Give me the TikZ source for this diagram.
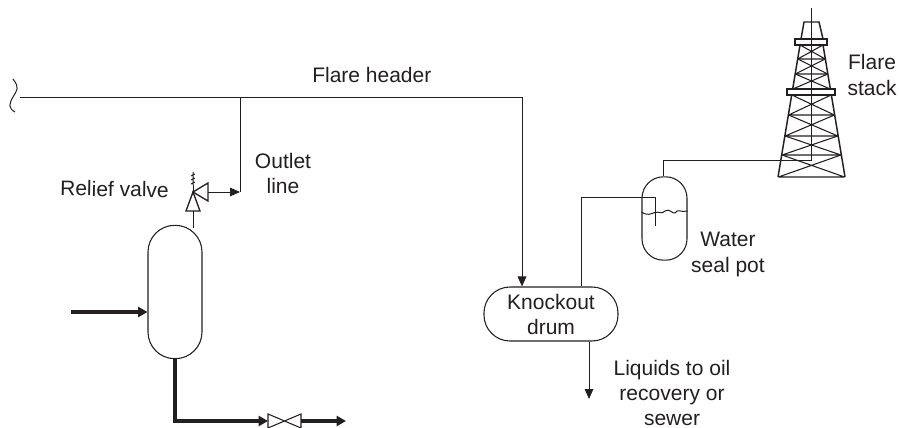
\documentclass[tikz,border=0pt]{standalone}
\usepackage{fontspec}
\setmainfont{Liberation Sans}
\usetikzlibrary{arrows.meta,shapes.geometric}
\definecolor{ink}{HTML}{231F20}
\tikzset{
 thinline/.style={draw=ink,line width=0.75pt},
 boldline/.style={draw=ink,line width=2.6pt},
 thinarrow/.style={thinline,-{Triangle[length=7.5pt,width=6.5pt]}},
 boldarrow/.style={boldline,-{Triangle[length=7pt,width=7.5pt]}},
 vesselbox/.style={draw=ink,line width=0.8pt,rectangle,inner sep=0pt},
 lbl/.style={text=ink,font=\fontsize{15.75pt}{19pt}\selectfont,align=center,inner sep=0pt},
 structure/.style={draw=ink,line width=0.8pt},
 platform/.style={draw=ink,line width=1pt,fill=white},
}
\begin{document}
\begin{tikzpicture}[x=0.75pt,y=-0.75pt,line join=miter]
\useasboundingbox (0,0) rectangle (899,428);
% flare stack
\foreach \ya/\yb in {45/59,59/74,74/89,95/115,115/136,136/155,155/177}{
  \pgfmathsetmacro\ha{11.5+(\ya-45)*0.163}
  \pgfmathsetmacro\hb{11.5+(\yb-45)*0.163}
  \draw[structure] (811.5-\ha,\ya) -- (811.5+\hb,\yb) (811.5+\ha,\ya) -- (811.5-\hb,\yb)
     (811.5-\hb,\yb) -- (811.5+\hb,\yb);
}
\draw[structure,line width=1.1pt] (800,45) -- (778,177) (823,45) -- (845,177);
\draw[structure,line width=1.1pt] (801,39) -- (804,22) -- (819,22) -- (823,39);
\draw[platform] (795,39) rectangle (827,45);
\draw[platform] (787,89) rectangle (835,95);
% vessels
\node[vesselbox,rounded corners=20pt,minimum width=40.5pt,minimum height=100pt] (column) at (175,292) {};
\node[vesselbox,rounded corners=16pt,minimum width=33.75pt,minimum height=62.5pt] (pot) at (664.5,218.5) {};
\node[vesselbox,rounded corners=19.5pt,minimum width=100.5pt,minimum height=40.5pt] (drum) at (551,314) {};
\node[lbl] (drumlbl) at (551,314.5) {Knockout\\drum};
% stack pole and piping
\coordinate (poletop) at (811.5,8);
\coordinate (polefoot) at (811.5,160);
\coordinate (potneck) at (663,160);
\draw[thinline] (poletop) -- (polefoot) -- (potneck) -- (pot.north -| potneck);
\draw[thinline] (drum.north -| 581,0) -- (581,197) -- (655,197) -- (655,226);
\draw[thinline] (pot.west |- 0,212) .. controls (648,216) and (650,214) .. (655,212.5)
   .. controls (660,211) and (661,215) .. (665,211) .. controls (670,208) and (672,214) .. (675,213)
   .. controls (678,208) and (681,213) .. (pot.east |- 0,211);
% header
\coordinate (hstart) at (20,97);
\coordinate (hdown) at (522,97);
\coordinate (tee) at (240,97);
\draw[thinarrow] (hstart) -- (hdown) -- (hdown |- drum.north);
\draw[thinline] (13,79) .. controls (20,88) and (17,90) .. (13,97) .. controls (9,104) and (8,108) .. (15,112);
% relief valve
\coordinate (vc) at (193,192);
\coordinate (vs) at (193,211);
\coordinate (vo) at (208,192);
\draw[thinline] (column.north -| vc) ++(0,3) -- (vs);
\draw[structure,line width=1pt] (vc) -- (186,211) -- (200,211) -- cycle;
\draw[structure,line width=1pt] (vc) -- (208,183) -- (208,201) -- cycle;
\draw[thinline] (vc) -- (193,185);
\draw[thinline] (191,184) -- (195,182) (191,180) -- (195,178) (191,176) -- (195,174) (193,172) -- (193,185);
\draw[thinarrow] (vo) -- (240,192);
\draw[thinline] (tee) -- (240,192);
% process lines
\coordinate (feed) at (71,312);
\draw[boldarrow] (feed) -- (column.west |- feed);
\coordinate (bot) at (175,421);
\coordinate (vl) at (268,421);
\coordinate (vr) at (301,421);
\coordinate (prod) at (346,421);
\draw[boldarrow] (column.south) -- (bot) -- (vl);
\draw[structure] (vl) -- (268,414) -- (301,428) -- (301,414) -- (268,428) -- cycle;
\draw[boldarrow] (vr) -- (prod);
\coordinate (liq) at (589,399);
\draw[thinarrow] (drum.south -| liq) -- (liq);
% labels
\node[lbl,anchor=base west] (lheader) at (312,83) {Flare header};
\node[lbl] (lstack) at (872,75) {Flare\\stack};
\node[lbl] (lwater) at (728,254.5) {Water\\seal pot};
\node[lbl] (loutlet) at (283,173.5) {Outlet\\line};
\node[lbl,anchor=west,rotate=-1] (lrelief) at (60,188) {Relief valve};
\node[lbl,font=\fontsize{15.75pt}{18.8pt}\selectfont] (lliq) at (672,393) {Liquids to oil\\recovery or\\sewer};
\end{tikzpicture}
\end{document}
